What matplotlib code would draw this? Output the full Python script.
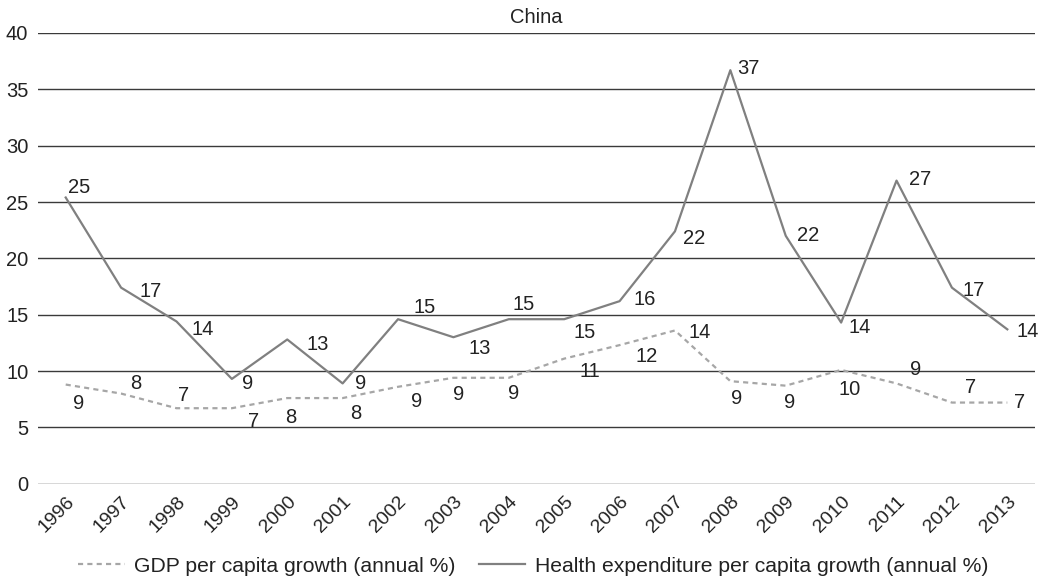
import matplotlib
matplotlib.use("Agg")
import matplotlib.pyplot as plt

plt.rcParams['font.family'] = ['Liberation Sans', 'DejaVu Sans']

years = ["1996", "1997", "1998", "1999", "2000", "2001", "2002", "2003", "2004",
         "2005", "2006", "2007", "2008", "2009", "2010", "2011", "2012", "2013"]
gdp_growth = [8.8, 8.0, 6.7, 6.7, 7.6, 7.6, 8.6, 9.4, 9.4,
              11.1, 12.3, 13.6, 9.1, 8.7, 10.1, 8.9, 7.2, 7.2]
health_growth = [25.4, 17.4, 14.4, 9.3, 12.8, 8.9, 14.6, 13.0, 14.6,
                 14.6, 16.2, 22.4, 36.7, 22.0, 14.3, 26.9, 17.4, 13.7]

# label offsets in pixels (dx, dy), dy positive = up
health_off = [(2, 10), (18, -4), (15, -8), (10, -5), (19, -5), (12, 0), (15, 12), (15, -11),
              (4, 15), (9, -13), (14, 2), (8, -7), (7, 2), (11, 0), (7, -5), (12, 1), (11, -3), (9, -2)]
gdp_off = [(13, -19), (15, 10), (7, 13), (22, -13), (3, -19), (13, -15), (19, -15), (5, -17),
           (5, -16), (26, -13), (27, -11), (25, -2), (6, -17), (4, -17), (8, -20), (19, 14), (19, 15), (12, 0)]

FS = 14.5
TXT = "#222222"

fig = plt.figure(figsize=(10.47, 5.80), dpi=100)
ax = fig.add_axes([38 / 1047, 1 - 483.7 / 580, 997 / 1047, 450.7 / 580])

x = list(range(len(years)))
for v in range(0, 45, 5):
    ax.axhline(v, color="#3a3a3a", lw=1.0, zorder=1)

ax.plot(x, gdp_growth, color="#a6a6a6", lw=1.6, ls=(0, (2.3, 1.9)), zorder=3,
        label="GDP per capita growth (annual %)")
ax.plot(x, health_growth, color="#808080", lw=1.6, zorder=3,
        label="Health expenditure per capita growth (annual %)")

for i, v in enumerate(health_growth):
    dx, dy = health_off[i]
    ax.annotate(f"{round(v):d}", (i, v), xytext=(dx, dy), textcoords="offset pixels",
                ha="left", va="center", fontsize=FS, color=TXT, zorder=4)
for i, v in enumerate(gdp_growth):
    dx, dy = gdp_off[i]
    ax.annotate(f"{round(v):d}", (i, v), xytext=(dx, dy), textcoords="offset pixels",
                ha="center", va="center", fontsize=FS, color=TXT, zorder=4)

ax.set_xlim(-0.5, len(years) - 0.5)
ax.set_ylim(0, 40)
ax.set_yticks(range(0, 45, 5))
ax.set_xticks(x)
ax.set_xticklabels(years, rotation=45, ha="right", rotation_mode="anchor", fontsize=14,
                   color=TXT)
ax.tick_params(axis="y", length=0, pad=7, labelsize=FS, labelcolor=TXT)
ax.tick_params(axis="x", length=0, pad=7)
for s in ax.spines.values():
    s.set_visible(False)

ax.set_title("China", fontsize=FS, color=TXT, pad=7)

fig.legend(loc="center", bbox_to_anchor=(533 / 1047, 1 - 566 / 580), ncol=2, frameon=False,
           fontsize=15.2, handlelength=2.2, handletextpad=0.45, columnspacing=1.1,
           labelcolor=TXT)

fig.savefig("out.png", dpi=100)
